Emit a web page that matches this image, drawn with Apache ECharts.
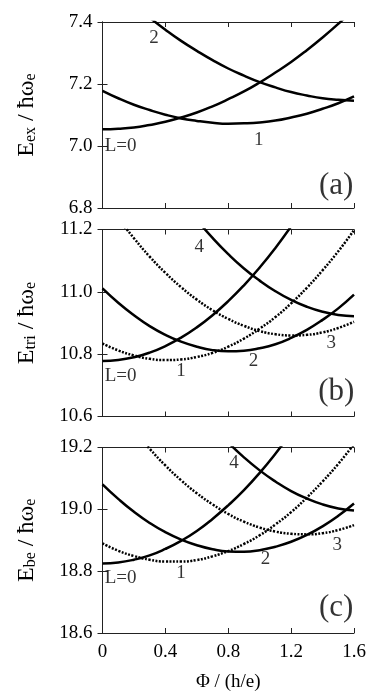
<!DOCTYPE html>
<html>
<head>
<meta charset="utf-8">
<script src="https://cdn.jsdelivr.net/npm/echarts@6/dist/echarts.min.js"></script>
<style>
  html, body { margin: 0; padding: 0; background: #fff; }
  #chart { width: 382px; height: 693px; }
</style>
</head>
<body>
<div id="chart"></div>
<script>
var phi = [0, 0.1, 0.2, 0.3, 0.4, 0.5, 0.6, 0.7, 0.8, 0.9, 1.0, 1.1, 1.2, 1.3, 1.4, 1.5, 1.6];

// (a) exciton
var exL0 = [7.054, 7.056, 7.060, 7.068, 7.078, 7.092, 7.108, 7.128, 7.151, 7.176, 7.205, 7.237, 7.271, 7.309, 7.350, 7.394, 7.441];
var exL1 = [7.178, 7.154, 7.133, 7.116, 7.101, 7.089, 7.081, 7.075, 7.072, 7.073, 7.076, 7.082, 7.092, 7.104, 7.120, 7.138, 7.160];
var exL2 = [null, null, null, 7.414, 7.375, 7.339, 7.307, 7.277, 7.250, 7.227, 7.206, 7.189, 7.174, 7.163, 7.154, 7.149, 7.146];

// (b) trion
var triL0 = [10.778, 10.781, 10.790, 10.805, 10.826, 10.853, 10.886, 10.925, 10.970, 11.021, 11.078, 11.141, 11.210, null, null, null, null];
var triL1 = [10.834, 10.812, 10.796, 10.785, 10.781, 10.783, 10.791, 10.804, 10.824, 10.850, 10.882, 10.919, 10.963, 11.013, 11.069, 11.130, 11.198];
var triL2 = [11.011, 10.965, 10.925, 10.890, 10.862, 10.840, 10.824, 10.813, 10.809, 10.811, 10.819, 10.832, 10.852, 10.878, 10.910, 10.947, 10.991];
var triL3 = [null, 11.236, 11.172, 11.113, 11.061, 11.015, 10.975, 10.941, 10.913, 10.891, 10.874, 10.864, 10.860, 10.862, 10.870, 10.884, 10.904];
var triL4 = [null, null, null, null, null, null, 11.231, 11.173, 11.121, 11.075, 11.036, 11.002, 10.974, 10.952, 10.936, 10.926, 10.922];

// (c) biexciton
var beL0 = [18.825, 18.828, 18.837, 18.851, 18.872, 18.898, 18.930, 18.969, 19.013, 19.062, 19.118, 19.180, 19.247, null, null, null, null];
var beL1 = [18.890, 18.866, 18.849, 18.837, 18.831, 18.831, 18.836, 18.848, 18.865, 18.888, 18.916, 18.951, 18.991, 19.038, 19.090, 19.147, 19.211];
var beL2 = [19.081, 19.034, 18.992, 18.956, 18.926, 18.902, 18.884, 18.871, 18.864, 18.863, 18.868, 18.879, 18.895, 18.917, 18.945, 18.979, 19.019];
var beL3 = [null, null, 19.255, 19.196, 19.142, 19.094, 19.052, 19.016, 18.985, 18.960, 18.941, 18.928, 18.921, 18.919, 18.923, 18.933, 18.949];
var beL4 = [null, null, null, null, null, null, null, null, 19.216, 19.168, 19.126, 19.090, 19.059, 19.035, 19.016, 19.003, 18.996];

var yMins = [6.8, 10.6, 18.6];
var yMaxs = [7.4, 11.2, 19.2];
var yNames = [
  '{m|E}{s|ex}{m| / ħω}{s|e}',
  '{m|E}{s|tri}{m| / ħω}{s|e}',
  '{m|E}{s|be}{m| / ħω}{s|e}'
];

// curve labels: [phi, E, text]
var labelsA = [[0.327, 7.348, '2'], [0.994, 7.019, '1'], [0.115, 7.0, 'L=0']];
var labelsB = [[0.615, 11.144, '4'], [0.499, 10.746, '1'], [0.961, 10.777, '2'], [1.456, 10.837, '3'], [0.115, 10.729, 'L=0']];
var labelsC = [[0.837, 19.149, '4'], [0.499, 18.793, '1'], [1.037, 18.838, '2'], [1.494, 18.884, '3'], [0.115, 18.779, 'L=0']];
var panelTags = [[1.487, 6.87, '(a)'], [1.487, 10.679, '(b)'], [1.487, 18.680, '(c)']];

var serif = '"Liberation Serif", "DejaVu Serif", serif';
var myChart = echarts.init(document.getElementById('chart'));

var grids = [
  { left: 102.5, right: 28, top: 22, height: 186 },
  { left: 102.5, right: 28, top: 229.5, height: 187 },
  { left: 102.5, right: 28, top: 447.5, height: 185.5 }
];

var xAxes = [], yAxes = [];
grids.forEach(function (g, i) {
  var last = i === 2;
  ['bottom', 'top'].forEach(function (pos) {
    var showLbl = last && pos === 'bottom';
    xAxes.push({
      type: 'value', gridIndex: i, position: pos, min: 0, max: 1.6, interval: 0.4,
      axisLine: { lineStyle: { color: '#222', width: 1 } },
      axisTick: { inside: true, length: 5, lineStyle: { color: '#222' } },
      axisLabel: { show: showLbl, color: '#000', fontFamily: serif, fontSize: 19, margin: 10 },
      splitLine: { show: false },
      name: showLbl ? 'Φ / (h/e)' : '',
      nameLocation: 'middle', nameGap: 40,
      nameTextStyle: { color: '#000', fontFamily: serif, fontSize: 19 }
    });
  });
  ['left', 'right'].forEach(function (pos) {
    var left = pos === 'left';
    yAxes.push({
      type: 'value', gridIndex: i, position: pos, min: yMins[i], max: yMaxs[i], interval: 0.2,
      axisLine: { lineStyle: { color: '#222', width: 1 } },
      axisTick: { inside: true, length: 5, lineStyle: { color: '#222' } },
      axisLabel: {
        show: left, color: '#000', fontFamily: serif, fontSize: 19, margin: 10,
        formatter: function (v) { return v.toFixed(1); }
      },
      splitLine: { show: false },
      name: left ? yNames[i] : '',
      nameLocation: 'middle', nameGap: 64,
      nameTextStyle: {
        color: '#000', fontFamily: serif, fontSize: 24,
        rich: {
          m: { fontSize: 24, fontFamily: serif, color: '#000', lineHeight: 24, verticalAlign: 'bottom' },
          s: { fontSize: 16, fontFamily: serif, color: '#000', lineHeight: 15, verticalAlign: 'bottom' }
        }
      }
    });
  });
});

function curve(gi, vals, dotted) {
  return {
    type: 'line', xAxisIndex: gi * 2, yAxisIndex: gi * 2,
    data: phi.map(function (x, k) { return [x, vals[k]]; }),
    smooth: true, symbol: 'none', silent: true,
    lineStyle: { color: '#000', width: 2.5, type: dotted ? [2, 1.5] : 'solid' }
  };
}

function tags(gi, list, size) {
  return {
    type: 'scatter', xAxisIndex: gi * 2, yAxisIndex: gi * 2,
    data: list, symbolSize: 0, silent: true,
    label: {
      show: true, position: 'inside', color: '#000', fontFamily: serif, fontSize: size,
      formatter: function (p) { return p.data[2]; }
    }
  };
}

var series = [
  curve(0, exL0), curve(0, exL1), curve(0, exL2),
  curve(1, triL0), curve(1, triL1, true), curve(1, triL2), curve(1, triL3, true), curve(1, triL4),
  curve(2, beL0), curve(2, beL1, true), curve(2, beL2), curve(2, beL3, true), curve(2, beL4),
  tags(0, labelsA, 19), tags(1, labelsB, 19), tags(2, labelsC, 19)
];
panelTags.forEach(function (t, i) {
  series.push(tags(i, [t], 31));
});

myChart.setOption({
  animation: false,
  backgroundColor: '#fff',
  grid: grids,
  xAxis: xAxes,
  yAxis: yAxes,
  series: series
});
window.addEventListener('resize', function () {
  myChart.resize();
});
</script>
</body>
</html>
